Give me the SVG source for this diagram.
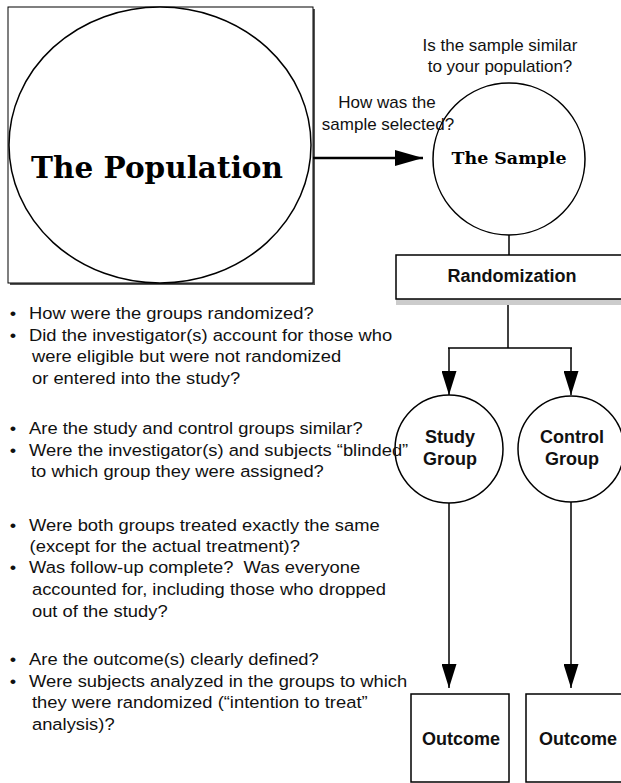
<svg xmlns="http://www.w3.org/2000/svg" width="621" height="783" viewBox="0 0 621 783">
<style>
.reg{font-family:"Liberation Sans",Arial,sans-serif;font-size:17px;fill:#111}
.bold{font-family:"Liberation Sans",Arial,sans-serif;font-size:18px;font-weight:bold;fill:#111}
.serif{font-family:"DejaVu Serif","Liberation Serif",serif;font-weight:bold;fill:#000}
.shape{fill:#fff;stroke:#000;stroke-width:1.5}
.conn{stroke:#000;stroke-width:1.5;fill:none}
</style>
<defs>
<marker id="ah" viewBox="0 0 24 15" refX="24" refY="7.5" markerWidth="24" markerHeight="15" markerUnits="userSpaceOnUse" orient="auto">
<path d="M0,0 L24,7.5 L0,15 Z" fill="#000"/>
</marker>
<marker id="ahbig" viewBox="0 0 28 16" refX="28" refY="8" markerWidth="28" markerHeight="16" markerUnits="userSpaceOnUse" orient="auto">
<path d="M0,0 L28,8 L0,16 Z" fill="#000"/>
</marker>
</defs>
<rect width="621" height="783" fill="#fff"/>

<g id="population">
<rect x="10" y="9" width="305" height="276" fill="#555"/>
<rect x="8" y="7" width="305" height="276" fill="#fff" stroke="#000" stroke-width="1"/>
<ellipse cx="160" cy="145" rx="151" ry="138" class="shape"/>
<text class="serif" x="157" y="178" font-size="30" text-anchor="middle" textLength="252" lengthAdjust="spacingAndGlyphs">The Population</text>
</g>

<g id="connectors">
<line x1="313" y1="158" x2="423" y2="158" stroke="#000" stroke-width="2.5" marker-end="url(#ahbig)"/>
<line x1="509" y1="235" x2="509" y2="255" class="conn"/>
<line x1="508" y1="304" x2="508" y2="348" class="conn"/>
<line x1="448" y1="348" x2="572" y2="348" class="conn"/>
<line x1="449" y1="348" x2="449" y2="395" class="conn" marker-end="url(#ah)"/>
<line x1="571" y1="348" x2="571" y2="395" class="conn" marker-end="url(#ah)"/>
<line x1="449" y1="503" x2="449" y2="688" class="conn" marker-end="url(#ah)"/>
<line x1="571" y1="502" x2="571" y2="688" class="conn" marker-end="url(#ah)"/>
</g>

<g id="sample">
<circle cx="509" cy="159" r="76" class="shape"/>
<text class="serif" x="509" y="164" font-size="16" text-anchor="middle" textLength="115" lengthAdjust="spacingAndGlyphs">The Sample</text>
</g>

<g id="randomization">
<rect x="396" y="260" width="240" height="45" fill="#ccc"/>
<rect x="396" y="255" width="235" height="44" class="shape"/>
<text class="bold" x="512" y="282" text-anchor="middle">Randomization</text>
</g>

<g id="study-group">
<circle cx="449" cy="449" r="54" class="shape"/>
<text class="bold" x="450" y="443" text-anchor="middle">Study</text>
<text class="bold" x="450" y="465" text-anchor="middle">Group</text>
</g>

<g id="control-group">
<circle cx="571" cy="449" r="53" class="shape"/>
<text class="bold" x="572" y="443" text-anchor="middle">Control</text>
<text class="bold" x="572" y="465" text-anchor="middle">Group</text>
</g>

<g id="outcome-study">
<rect x="411" y="694" width="98" height="88" class="shape"/>
<text class="bold" x="461" y="745" text-anchor="middle">Outcome</text>
</g>

<g id="outcome-control">
<rect x="526" y="694" width="110" height="88" class="shape"/>
<text class="bold" x="578" y="745" text-anchor="middle">Outcome</text>
</g>

<g id="labels" class="reg">
<text x="500" y="51" text-anchor="middle">Is the sample similar</text>
<text x="500" y="72" text-anchor="middle">to your population?</text>
<text x="387" y="108" text-anchor="middle">How was the</text>
<text x="388" y="130" text-anchor="middle">sample selected?</text>
</g>

<g id="questions" class="reg" transform="scale(1.08,1)">
<text x="9" y="319">•</text><text x="26.9" y="319">How were the groups randomized?</text>
<text x="9" y="341">•</text><text x="26.9" y="341">Did the investigator(s) account for those who</text>
<text x="29.6" y="362">were eligible but were not randomized</text>
<text x="29.6" y="384">or entered into the study?</text>
<text x="9" y="434">•</text><text x="26.9" y="434">Are the study and control groups similar?</text>
<text x="9" y="456">•</text><text x="26.9" y="456">Were the investigator(s) and subjects “blinded”</text>
<text x="28.7" y="477">to which group they were assigned?</text>
<text x="9" y="531">•</text><text x="26.9" y="531">Were both groups treated exactly the same</text>
<text x="27.4" y="552">(except for the actual treatment)?</text>
<text x="9" y="573">•</text><text x="26.9" y="573" xml:space="preserve">Was follow-up complete?  Was everyone</text>
<text x="29.6" y="595">accounted for, including those who dropped</text>
<text x="29.6" y="617">out of the study?</text>
<text x="9" y="665">•</text><text x="26.9" y="665">Are the outcome(s) clearly defined?</text>
<text x="9" y="687">•</text><text x="26.9" y="687">Were subjects analyzed in the groups to which</text>
<text x="29.6" y="708">they were randomized (“intention to treat”</text>
<text x="29.6" y="730">analysis)?</text>
</g>
</svg>
